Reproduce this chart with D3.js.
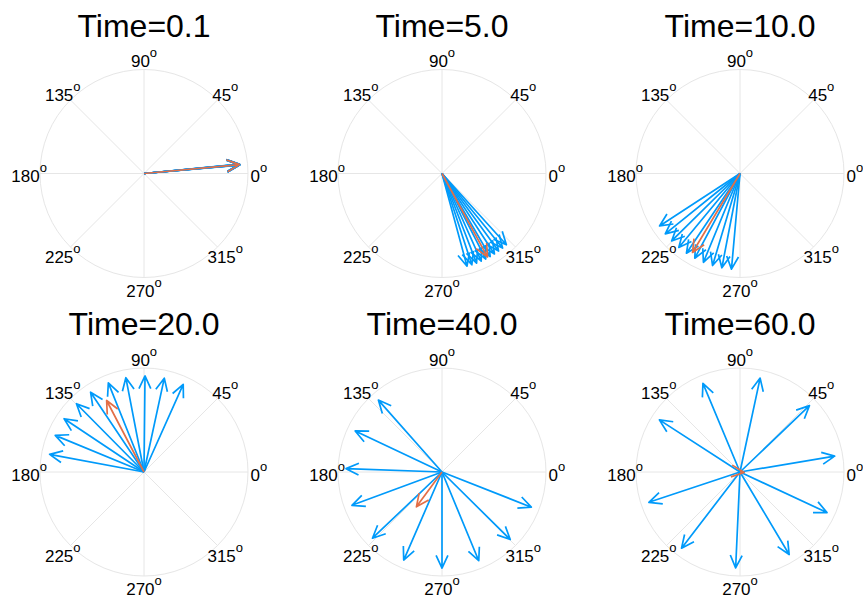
<!DOCTYPE html>
<html><head><meta charset="utf-8">
<script src="https://cdn.jsdelivr.net/npm/d3@7"></script>
<style>body{margin:0;background:#fff}svg{display:block}</style>
</head><body>
<svg id="chart" width="863" height="596"></svg>
<script>
// ---- data (angles in degrees, lengths in data units) ----
const panelTimes = ["0.1", "5.0", "10.0", "20.0", "40.0", "60.0"];
const phasesT0_1 = [5.05, 5.1, 5.15, 5.2, 5.25, 5.35, 5.4, 5.45, 5.5, 5.55];
const phasesT5   = [285.1, 288.1, 291.1, 294.1, 297.1, 300.1, 303.1, 306.1, 309.1, 312.1];
const phasesT10  = [213.1, 218.9, 224.6, 230.4, 236.1, 241.9, 247.6, 253.4, 259.1, 264.9];
const phasesT20  = [65.9, 77.8, 89.4, 100.9, 111.8, 123.8, 134.7, 146.3, 157.6, 169.4];
const phasesT40  = [131.5, 154.7, 178.0, 200.3, 223.6, 246.5, 270.0, 292.5, 315.3, 338.5];
const phasesT60  = [147.1, 112.7, 77.9, 43.7, 9.5, 335.0, 300.8, 267.4, 232.5, 198.4];
const vectorLength = 1.0;
const meanAngles  = [5.3, 298.6, 239.0, 117.6, 233.7, 353.0];
const meanLengths = [1.0, 0.99, 0.96, 0.84, 0.45, 0.044];
const tickAngles = [0, 45, 90, 135, 180, 225, 270, 315];
const tickLabels = ["0", "45", "90", "135", "180", "225", "270", "315"];

const phaseSets = [phasesT0_1, phasesT5, phasesT10, phasesT20, phasesT40, phasesT60];

const BLUE = "#009AFA", ORANGE = "#E36F47", GRID = "#e6e6e6";
const svg = d3.select("#chart");

const colX = d3.scalePoint().domain([0, 1, 2]).range([144, 740]);
const rowY = d3.scalePoint().domain([0, 1]).range([173.5, 472]);
const rScale = d3.scaleLinear().domain([0, 1.083]).range([0, 104]);
const rad = d => d * Math.PI / 180;

function arrowPath(a, len) {
  const t = rad(a);
  const L = rScale(len);
  const tx = L * Math.cos(t), ty = -L * Math.sin(t);
  const head = 14, spread = rad(25);
  const b = t + Math.PI;
  const b1x = tx + head * Math.cos(b + spread), b1y = ty - head * Math.sin(b + spread);
  const b2x = tx + head * Math.cos(b - spread), b2y = ty - head * Math.sin(b - spread);
  const p = d3.path();
  p.moveTo(0, 0); p.lineTo(tx, ty);
  p.moveTo(b1x, b1y); p.lineTo(tx, ty); p.lineTo(b2x, b2y);
  return p.toString();
}

panelTimes.forEach((time, i) => {
  const cx = colX(i % 3), cy = rowY(Math.floor(i / 3));
  const g = svg.append("g").attr("transform", `translate(${cx},${cy})`);
  const R = rScale(rScale.domain()[1]);

  // grid
  g.append("circle").attr("r", R).attr("fill", "none").attr("stroke", GRID).attr("stroke-width", 1);
  g.selectAll("line.spoke").data(tickAngles).join("line").attr("class", "spoke")
    .attr("x1", 0).attr("y1", 0)
    .attr("x2", d => R * Math.cos(rad(d))).attr("y2", d => -R * Math.sin(rad(d)))
    .attr("stroke", GRID).attr("stroke-width", 1);

  // tick labels
  const labR = R * 1.105;
  const lab = g.selectAll("text.tick").data(tickAngles).join("text").attr("class", "tick")
    .attr("x", d => labR * Math.cos(rad(d)))
    .attr("y", d => -labR * Math.sin(rad(d)) + 8.5)
    .attr("text-anchor", "middle")
    .attr("font-family", "'Liberation Sans', Arial, sans-serif")
    .attr("font-size", 17).attr("fill", "#000");
  lab.append("tspan").text((d, k) => tickLabels[k]);
  lab.append("tspan").attr("dy", -10).attr("font-size", 13).text("o");

  // title
  g.append("text").attr("x", 0).attr("y", -137).attr("text-anchor", "middle")
    .attr("font-family", "'Liberation Sans', Arial, sans-serif")
    .attr("font-size", 32).attr("fill", "#000")
    .text("Time=" + time);

  // blue vectors
  g.selectAll("path.vec").data(phaseSets[i]).join("path").attr("class", "vec")
    .attr("d", d => arrowPath(d, vectorLength))
    .attr("fill", "none").attr("stroke", BLUE).attr("stroke-width", 1.7)
    .attr("stroke-linejoin", "round");

  // mean vector
  g.append("path").attr("d", arrowPath(meanAngles[i], meanLengths[i]))
    .attr("fill", "none").attr("stroke", ORANGE).attr("stroke-width", 1.7)
    .attr("stroke-linejoin", "round");
});
</script>
</body></html>
